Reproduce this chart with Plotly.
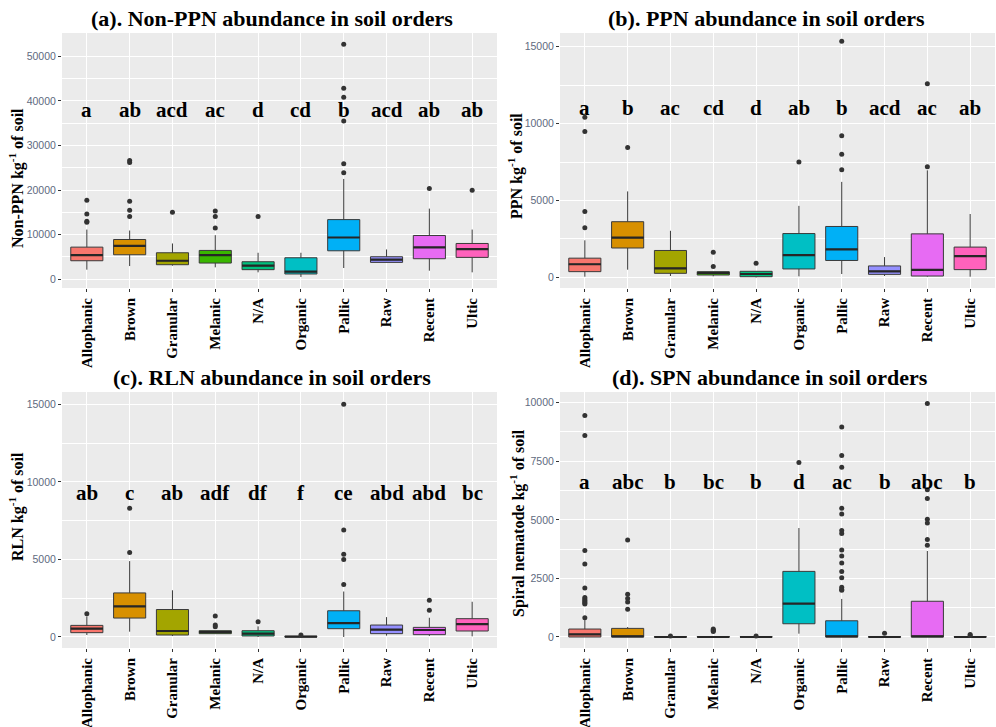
import plotly.graph_objects as go

categories = ["Allophanic", "Brown", "Granular", "Melanic", "N/A",
              "Organic", "Pallic", "Raw", "Recent", "Ultic"]
fill_colors = ["#F8766D", "#D89000", "#A3A500", "#39B600", "#00BF7D",
               "#00BFC4", "#00B0F6", "#9590FF", "#E76BF3", "#FF62BC"]

# (a) Non-PPN
a_q1 = [4160, 5500, 3270, 3640, 2160, 1190, 6390, 3790, 4610, 4910]
a_med = [5430, 7510, 4160, 5430, 3050, 1710, 9370, 4390, 7140, 6770]
a_q3 = [7210, 8920, 5950, 6470, 3940, 4830, 13380, 5060, 9810, 8030]
a_lo = [2160, 2970, 3050, 2680, 1560, 520, 2530, 3790, 1930, 1560]
a_hi = [11150, 10930, 8030, 9890, 5950, 5950, 22490, 6690, 15840, 11150]
a_out = [[17700, 14650, 13010, 12790], [26600, 26200, 17470, 15460, 14050],
         [15020], [15320, 14050, 11520], [14050], [],
         [52690, 42820, 40800, 35490, 25920, 23900], [], [20370], [19930]]
a_letters = ["a", "ab", "acd", "ac", "d", "cd", "b", "acd", "ab", "ab"]

# (b) PPN
b_q1 = [373, 1910, 263, 154, 44, 548, 1100, 197, 88, 504]
b_med = [855, 2590, 590, 285, 219, 1450, 1820, 395, 482, 1380]
b_q3 = [1250, 3620, 1750, 373, 395, 2850, 3310, 746, 2830, 1970]
b_lo = [44, 500, 88, 66, 0, 66, 219, 88, 44, 44]
b_hi = [2410, 5590, 3030, 373, 395, 4650, 6210, 1320, 6960, 4120]
b_out = [[10420, 9480, 4280, 3220], [8450], [], [1640, 700], [920], [7500],
         [15360, 9210, 8010, 7000], [], [12590, 7200], []]
b_letters = ["a", "b", "ac", "cd", "d", "ab", "b", "acd", "ac", "ab"]

# (c) RLN
c_q1 = [278, 1220, 128, 214, 64, 0, 534, 214, 150, 385]
c_med = [534, 1970, 385, 320, 214, 21, 898, 470, 449, 833]
c_q3 = [748, 2840, 1770, 406, 406, 43, 1690, 770, 620, 1180]
c_lo = [128, 342, 64, 214, 0, 0, 0, 85, 64, 43]
c_hi = [1325, 4890, 3010, 406, 684, 43, 2930, 1280, 1240, 2270]
c_out = [[1500], [8300, 5450], [], [1350, 770, 660], [983], [128],
         [15000, 6900, 5340, 5000, 3380], [], [2370, 1730], []]
c_letters = ["ab", "c", "ab", "adf", "df", "f", "ce", "abd", "abd", "bc"]

# (d) Spiral nematode
d_q1 = [0, 0, 0, 0, 0, 565, 0, 0, 0, 0]
d_med = [113, 28, 0, 0, 0, 1426, 28, 0, 28, 0]
d_q3 = [339, 367, 15, 20, 10, 2800, 692, 15, 1525, 15]
d_lo = [0, 0, 0, 0, 0, 141, 0, 0, 0, 0]
d_hi = [720, 424, 30, 40, 20, 4650, 1624, 30, 3670, 30]
d_out = [[9450, 8600, 3690, 3120, 2090, 1680, 1620, 1560, 1500, 1450, 1410, 819],
         [4140, 1820, 1640, 1497, 1186], [40], [340, 300, 270, 230], [40], [7450],
         [8960, 7750, 7240, 5490, 5250, 4550, 4420, 3710, 3460, 3160, 2800,
          2530, 2120, 2030, 1990],
         [155], [9960, 6280, 5910, 5030, 4860, 4160, 3920], [110, 60]]
d_letters = ["a", "abc", "b", "bc", "b", "d", "ac", "b", "abc", "b"]

titles = ["(a). Non-PPN abundance in soil orders",
          "(b). PPN abundance in soil orders",
          "(c). RLN abundance in soil orders",
          "(d). SPN abundance in soil orders"]
y_titles = ["Non-PPN kg<sup>-1</sup> of soil", "PPN kg<sup>-1</sup> of soil",
            "RLN kg<sup>-1</sup> of soil", "Spiral nematode kg<sup>-1</sup> of soil"]
letter_y = [38000, 11000, 9300, 6600]
y_ticks = [[0, 10000, 20000, 30000, 40000, 50000],
           [0, 5000, 10000, 15000],
           [0, 5000, 10000, 15000],
           [0, 2500, 5000, 7500, 10000]]

panels = [
    (a_q1, a_med, a_q3, a_lo, a_hi, a_out, a_letters),
    (b_q1, b_med, b_q3, b_lo, b_hi, b_out, b_letters),
    (c_q1, c_med, c_q3, c_lo, c_hi, c_out, c_letters),
    (d_q1, d_med, d_q3, d_lo, d_hi, d_out, d_letters),
]

W, H = 996, 727
# panel pixel boxes: left, right, top, bottom
boxes = [(62, 497, 33, 288), (560, 995, 33, 288),
         (62, 497, 392, 648), (560, 995, 392, 648)]
y_ranges = [[-1950, 55200], [-690, 15890], [-710, 15790], [-470, 10456]]
title_pos = [(272, 18), (766, 18), (272, 377), (770, 377)]
ytitle_pos = [(16, 178), (516, 166), (16, 507), (517, 523)]

SERIF = "Liberation Serif"
fig = go.Figure()
annotations = []
layout = {}

for p, (q1, med, q3, lo, hi, outs, letters) in enumerate(panels):
    sfx = "" if p == 0 else str(p + 1)
    xa, ya = "x" + sfx, "y" + sfx
    for i in range(len(categories)):
        fig.add_trace(go.Box(
            x=[i], q1=[q1[i]], median=[med[i]], q3=[q3[i]],
            lowerfence=[lo[i]], upperfence=[hi[i]], orientation="v",
            fillcolor=fill_colors[i], line=dict(color="#3a3a3a", width=1),
            whiskerwidth=0, width=0.75, boxpoints=False,
            xaxis=xa, yaxis=ya, showlegend=False, hoverinfo="skip"))
        fig.add_trace(go.Box(
            x=[i], q1=[med[i]], median=[med[i]], q3=[med[i]],
            lowerfence=[med[i]], upperfence=[med[i]], orientation="v",
            fillcolor="rgba(0,0,0,0)", line=dict(color="#262626", width=2.2),
            whiskerwidth=0, width=0.75, boxpoints=False,
            xaxis=xa, yaxis=ya, showlegend=False, hoverinfo="skip"))
        if outs[i]:
            fig.add_trace(go.Scatter(
                x=[i] * len(outs[i]), y=outs[i], mode="markers",
                marker=dict(color="#333333", size=5),
                xaxis=xa, yaxis=ya, showlegend=False, hoverinfo="skip"))
        annotations.append(dict(
            x=i, y=letter_y[p], xref=xa, yref=ya, text="<b>%s</b>" % letters[i],
            showarrow=False, font=dict(family=SERIF, size=21, color="black"),
            xanchor="center", yanchor="middle"))

    l, r, t, b = boxes[p]
    layout["xaxis" + sfx] = dict(
        domain=[l / W, r / W], anchor=ya, range=[-0.58, 9.58],
        tickmode="array", tickvals=list(range(len(categories))),
        ticktext=["<b>%s</b>" % c for c in categories], tickangle=-90,
        tickfont=dict(family=SERIF, size=15, color="black"),
        showgrid=True, gridcolor="white", gridwidth=1.1, zeroline=False,
        ticks="outside", ticklen=3, tickcolor="#333333", showline=False)
    layout["yaxis" + sfx] = dict(
        domain=[1 - b / H, 1 - t / H], anchor=xa, range=y_ranges[p],
        tickmode="array", tickvals=y_ticks[p],
        ticktext=[str(v) for v in y_ticks[p]],
        tickfont=dict(family="Liberation Sans", size=10.5, color="#606a80"),
        showgrid=True, gridcolor="white", gridwidth=1.1, zeroline=False,
        minor=dict(dtick=y_ticks[p][1] / 2, showgrid=True, gridcolor="white",
                   gridwidth=0.5),
        ticks="outside", ticklen=3, tickcolor="#333333", showline=False)
    tx, ty = title_pos[p]
    annotations.append(dict(
        x=tx / W, y=1 - ty / H, xref="paper", yref="paper",
        text="<b>%s</b>" % titles[p], showarrow=False,
        font=dict(family=SERIF, size=22, color="black"),
        xanchor="center", yanchor="middle"))
    yx, yy = ytitle_pos[p]
    annotations.append(dict(
        x=yx / W, y=1 - yy / H, xref="paper", yref="paper",
        text="<b>%s</b>" % y_titles[p], showarrow=False, textangle=-90,
        font=dict(family=SERIF, size=16, color="black"),
        xanchor="center", yanchor="middle"))

fig.update_layout(
    width=W, height=H, margin=dict(l=0, r=0, t=0, b=0),
    paper_bgcolor="white", plot_bgcolor="#EBEBEB",
    boxmode="overlay", annotations=annotations, **layout)

fig.write_html("out.html")
